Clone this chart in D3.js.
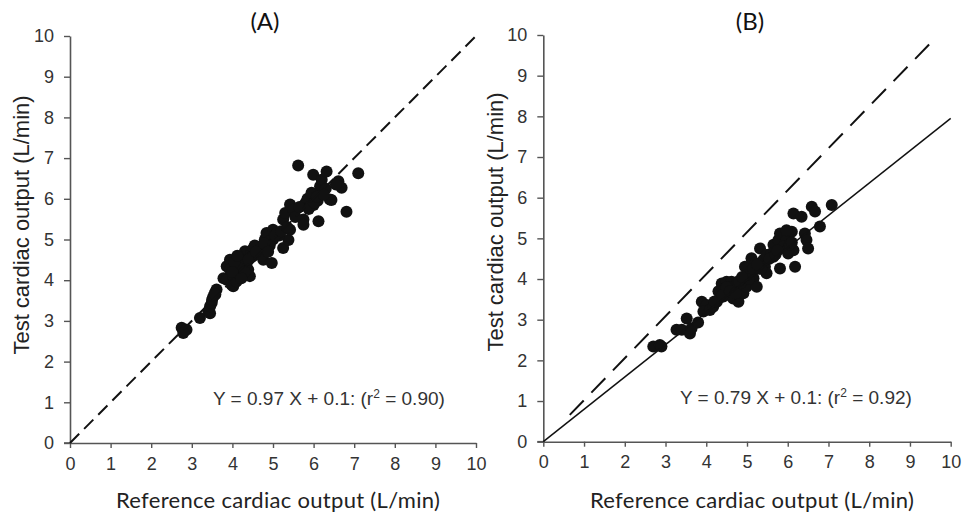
<!DOCTYPE html>
<html><head><meta charset="utf-8">
<script src="https://cdn.jsdelivr.net/npm/d3@7"></script>
<style>body{margin:0;background:#fff}svg{display:block}</style>
</head><body><svg width="963" height="515"></svg>
<script>
// ---- data ----
const ticks = [0,1,2,3,4,5,6,7,8,9,10];
const panelTitles = ["(A)", "(B)"];
const xTitle = "Reference cardiac output (L/min)";
const yTitle = "Test cardiac output (L/min)";
const eqA = ["Y = 0.97 X + 0.1: (r", "2", " = 0.90)"];
const eqB = ["Y = 0.79 X + 0.1: (r", "2", " = 0.92)"];

const refA = [2.75,2.87,2.79,3.2,3.41,3.45,3.45,3.49,3.53,3.57,3.61,3.78,3.86,3.86,3.94,3.94,3.98,4.02,4.02,4.06,4.1,4.19,4.19,4.31,4.35,4.35,4.39,4.43,4.47,4.5,4.52,4.6,4.68,4.68,4.76,4.8,4.84,4.97,5.0,5.0,5.09,5.25,5.25,5.3,5.38,5.42,5.42,5.5,5.62,5.75,5.75,5.8,5.85,5.9,5.95,6.0,6.05,6.1,6.12,5.99,6.16,6.2,6.32,6.4,6.44,6.61,6.69,6.81,7.1,4.25,4.15,4.55,4.65,4.9,5.15,4.05,4.3,4.45,4.72,4.92,5.55,5.95,6.3,4.0,4.12,3.5,3.58,4.22,4.4,4.58,4.78,4.88,5.05,5.2,5.35,5.65,5.88,6.02,6.08,6.25,6.55];
const testA = [2.83,2.78,2.7,3.07,3.24,3.19,3.36,3.44,3.6,3.69,3.77,4.05,4.01,4.34,4.5,4.26,3.89,4.1,3.85,4.42,3.97,4.34,4.18,4.71,4.67,4.42,4.26,4.1,4.67,4.59,4.79,4.67,4.83,4.67,4.5,5.0,5.16,4.42,5.24,5.0,5.16,5.49,4.79,5.65,4.99,5.86,5.24,5.73,6.82,5.49,5.36,5.9,6.0,5.8,6.1,5.85,6.0,5.95,5.45,6.59,6.31,6.47,6.67,5.98,5.97,6.43,6.27,5.68,6.63,4.5,4.3,4.85,4.75,4.95,5.1,4.45,4.2,4.55,4.6,4.85,5.55,6.15,6.25,4.2,4.6,3.52,3.65,4.05,4.5,4.7,4.9,4.7,5.1,5.2,5.3,5.8,5.75,5.9,6.05,6.1,6.35];

const refB = [2.7,2.86,2.9,3.27,3.4,3.52,3.6,3.64,3.8,3.89,4.01,3.93,4.09,4.17,4.26,4.38,4.5,4.62,4.75,4.42,4.54,4.66,4.79,4.91,4.99,4.91,5.03,4.95,5.16,5.24,5.11,5.2,5.32,5.4,5.48,5.44,5.48,5.65,5.77,5.6,5.81,5.81,5.97,6.05,6.1,6.01,6.14,6.18,6.14,6.34,6.42,6.46,6.5,6.59,6.67,6.79,7.08,5.97,5.65,4.3,4.35,4.45,4.55,4.6,4.7,4.85,5.05,5.1,5.3,5.55,5.9,6.0,4.2,4.4,4.65,4.8,5.0,5.35,5.7,6.05,4.5,4.58,4.72,4.88,5.15,5.25,5.75,6.1];
const testB = [2.34,2.38,2.34,2.75,2.75,3.03,2.66,2.79,2.93,3.44,3.36,3.2,3.24,3.32,3.44,3.89,3.93,3.93,3.89,3.57,3.65,3.52,3.44,3.65,3.81,3.98,4.14,4.3,4.02,3.81,4.51,4.39,4.75,4.47,4.59,4.3,4.14,4.84,4.96,4.63,5.12,4.26,4.96,4.84,5.16,4.63,4.71,4.3,5.61,5.53,5.12,4.96,4.75,5.78,5.66,5.29,5.82,5.2,4.55,3.7,3.55,3.75,3.8,3.6,3.7,3.9,4.0,4.2,4.25,4.5,4.8,4.7,3.45,3.6,3.75,3.95,4.1,4.25,4.6,4.85,3.8,3.7,3.65,4.05,4.25,4.35,4.7,4.9];

const identityA = [[0,0],[10.08,10.08]];
const identityB = [[0.65,0.66],[9.6,9.9]];
const fitB = [[0,0],[10,7.95]];

const svg = d3.select("svg");
const axisColor = "#555";

function panel(cfg){
  const x = d3.scaleLinear().domain([0,10]).range([cfg.x0, cfg.x1]);
  const y = d3.scaleLinear().domain([0,10]).range([cfg.y0, cfg.y1]);
  const g = svg.append("g");
  const xa = g.append("g").attr("transform",`translate(0,${cfg.y0})`)
    .call(d3.axisBottom(x).tickValues(ticks).tickSize(5).tickSizeOuter(0).tickPadding(9));
  const ya = g.append("g").attr("transform",`translate(${cfg.x0},0)`)
    .call(d3.axisLeft(y).tickValues(ticks).tickSize(6).tickSizeOuter(0).tickPadding(10));
  [xa,ya].forEach(a=>{
    a.select(".domain").attr("stroke",axisColor).attr("stroke-width",1.6);
    a.selectAll(".tick line").attr("stroke",axisColor).attr("stroke-width",1.4);
    a.selectAll(".tick text").attr("fill","#333").attr("font-family","Liberation Sans, Arial, sans-serif").attr("font-size","18px");
  });
  g.append("line").attr("x1",cfg.x0-6).attr("x2",cfg.x0).attr("y1",cfg.y0).attr("y2",cfg.y0)
    .attr("stroke",axisColor).attr("stroke-width",1.6);

  const line = d3.line().x(d=>x(d[0])).y(d=>y(d[1]));
  g.append("g").selectAll("circle").data(cfg.ref.map((r,i)=>[r,cfg.test[i]])).join("circle")
    .attr("cx",d=>x(d[0])).attr("cy",d=>y(d[1])).attr("r",6).attr("fill","#111");
  g.append("path").attr("d",line(cfg.identity)).attr("fill","none").attr("stroke","#111")
    .attr("stroke-width",2).attr("stroke-dasharray",cfg.dash);
  if(cfg.fit){
    g.append("path").attr("d",line(cfg.fit)).attr("fill","none").attr("stroke","#111").attr("stroke-width",1.5);
  }
  g.append("text").attr("x",cfg.titleX).attr("y",30).attr("text-anchor","middle")
    .attr("font-family","Lato, sans-serif").attr("font-size","24px").attr("fill","#111").text(cfg.title);
  g.append("text").attr("x",cfg.xTitleX).attr("y",508).attr("text-anchor","middle")
    .attr("font-family","Lato, sans-serif").attr("font-size","22px").attr("letter-spacing","0.3px").attr("fill","#222").text(xTitle);
  g.append("text").attr("transform",`translate(${cfg.yTitleX},${cfg.yTitleY}) rotate(-90)`).attr("text-anchor","middle")
    .attr("font-family","Liberation Sans, Arial, sans-serif").attr("font-size","22px").attr("fill","#222").text(yTitle);
  const t = g.append("text").attr("x",cfg.eqX).attr("y",cfg.eqY)
    .attr("font-family","Liberation Sans, Arial, sans-serif").attr("font-size","19px").attr("fill","#333");
  t.append("tspan").text(cfg.eq[0]);
  t.append("tspan").attr("dy",-7).attr("font-size","12px").text(cfg.eq[1]);
  t.append("tspan").attr("dy",7).text(cfg.eq[2]);
}

panel({x0:70,x1:476,y0:443,y1:36,ref:refA,test:testA,identity:identityA,dash:"13,7",fit:null,
  title:panelTitles[0],titleX:265,xTitleX:278,yTitleX:29,yTitleY:225,eq:eqA,eqX:213,eqY:405});
panel({x0:543.3,x1:950.7,y0:441.7,y1:35,ref:refB,test:testB,identity:identityB,dash:"20,11",fit:fitB,
  title:panelTitles[1],titleX:750,xTitleX:752,yTitleX:503,yTitleY:222,eq:eqB,eqX:680,eqY:404});
</script></body></html>
